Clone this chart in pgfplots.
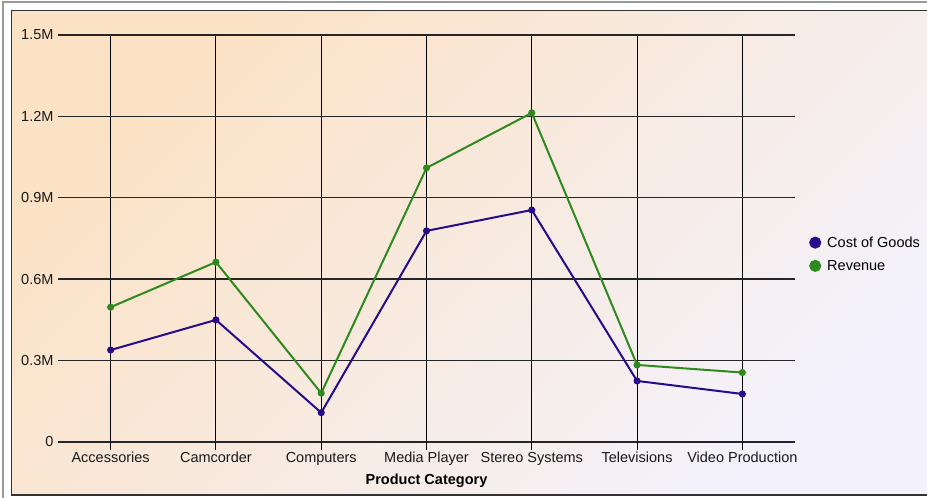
\documentclass[border=0pt]{standalone}
\usepackage{pgfplots}
\pgfplotsset{compat=1.18}
\usepackage{fontspec}
\setmainfont{Liberation Sans}

\definecolor{cogs}{RGB}{38,12,138}
\definecolor{rev}{RGB}{46,138,30}
\definecolor{bgpeach}{RGB}{252,226,196}
\definecolor{bglav}{RGB}{243,242,252}
\definecolor{txt}{RGB}{25,25,25}

\begin{document}
\begin{tikzpicture}[x=1pt,y=1pt]
	% frame and background
	\useasboundingbox (0,0) rectangle (927,498);
	\fill[white] (0,0) rectangle (927,498);
	\draw[gray!80, line width=2pt] (2.5,-5) -- (2.5,495.5) -- (935,495.5);
	\shade[top color=bgpeach, bottom color=bglav, shading angle=45] (11.5,3) rectangle (930,487.5);
	\draw[black!80, line width=1.2pt] (930,3) -- (11.5,3) -- (11.5,487.5) -- (930,487.5);

	\begin{axis}[
	at={(58pt,56pt)}, anchor=south west,
	scale only axis,
	width=737pt, height=407pt,
	xmin=-0.5, xmax=6.5,
	ymin=0, ymax=1.5,
	axis line style={draw=none},
	xtick={0,...,6},
	xticklabels={Accessories,Camcorder,Computers,Media Player,Stereo Systems,Televisions,Video Production},
	ytick={0,0.3,0.6,0.9,1.2,1.5},
	yticklabels={0,0.3M,0.6M,0.9M,1.2M,1.5M},
	xmajorgrids, ymajorgrids,
	x grid style={black, line width=1.1pt},
	y grid style={black!85, line width=1.4pt},
	tick pos=left,
	tick align=outside,
	major tick length=8pt,
	xtick style={black, line width=1.1pt},
	ytick style={draw=none},
	ticklabel style={font=\fontsize{14.5}{16}\selectfont, text=txt},
	xticklabel style={yshift=2pt, text height=10.5pt, text depth=3pt},
	yticklabel style={xshift=7pt},
	/pgf/number format/assume math mode=true,
	xlabel={\textbf{Product Category}},
	xlabel style={font=\fontsize{14.5}{16}\selectfont, yshift=-2pt},
	legend style={draw=none, fill=none, at={(1.0204,0.51)}, anchor=north west,
		font=\fontsize{14.5}{16}\selectfont, row sep=7.5pt, column sep=5pt, inner sep=0pt},
	legend cell align=left,
	legend image code/.code={\draw[mark=*, mark size=5pt, mark options={solid}] plot coordinates {(0.15cm,0cm)};},
	]
	\addplot[cogs, line width=2pt, mark=*, mark size=2.5pt] coordinates {
		(0,0.339) (1,0.450) (2,0.108) (3,0.778) (4,0.855) (5,0.225) (6,0.177)
	};
	\addlegendentry{Cost of Goods}
	\addplot[rev, line width=2pt, mark=*, mark size=2.5pt] coordinates {
		(0,0.497) (1,0.663) (2,0.180) (3,1.010) (4,1.213) (5,0.284) (6,0.256)
	};
	\addlegendentry{Revenue}
	\end{axis}
\end{tikzpicture}
\end{document}
